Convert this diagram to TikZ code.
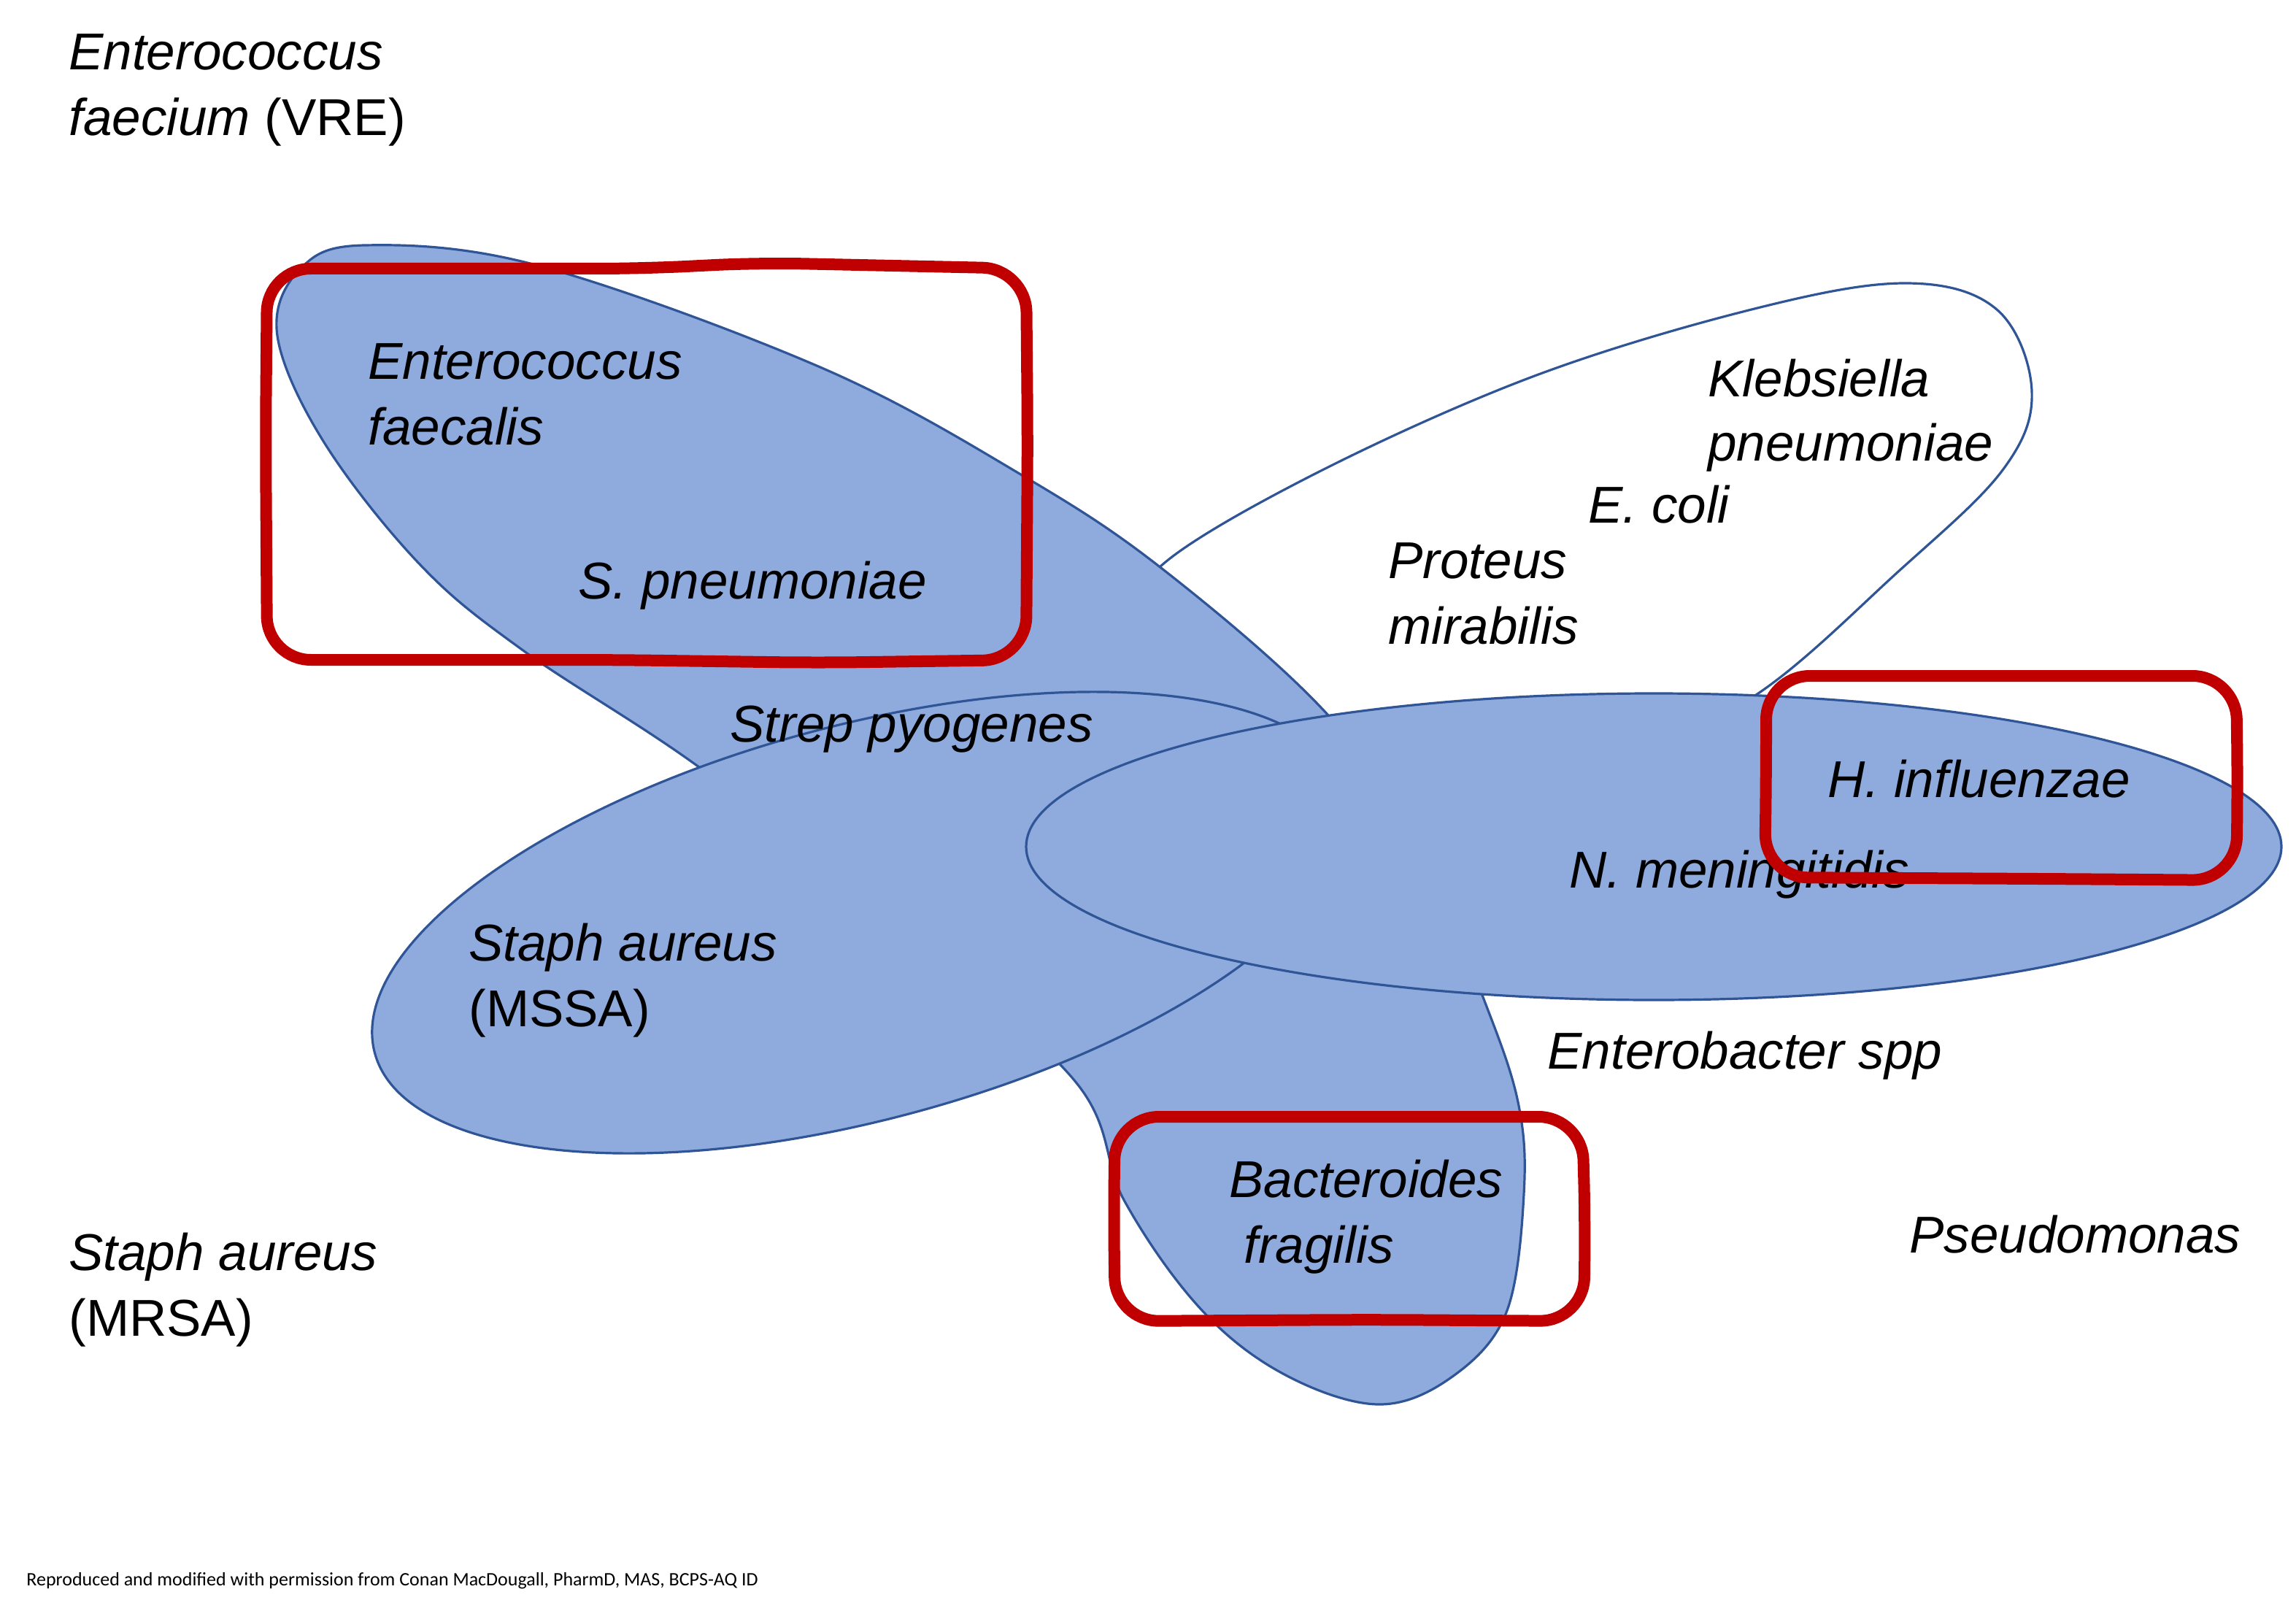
\documentclass[tikz,border=0pt]{standalone}
\usepackage{fontspec}
\setmainfont{Liberation Sans}
\newfontfamily\footfont{Carlito}
\definecolor{bfill}{HTML}{8FAADC}
\definecolor{bline}{HTML}{2F5597}
\definecolor{rline}{HTML}{C00000}
\begin{document}
\begin{tikzpicture}[x=1pt,y=-1pt,
  blob/.style={draw=bline,line width=1.6pt,fill=bfill},
  redbox/.style={draw=rline,line width=8pt,rounded corners=30pt},
  lbl/.style={anchor=base west,inner sep=0pt,font=\fontsize{35.5}{42}\selectfont\itshape,align=left},
  lbu/.style={anchor=base west,inner sep=0pt,font=\fontsize{35.5}{42}\selectfont,align=left}]
\useasboundingbox (0,0) rectangle (1573,1101.5);
% Klebsiella ellipse (white)
\draw[draw=bline,line width=1.6pt,fill=white] plot[smooth cycle,tension=0.6] coordinates {(795,388) (900,325) (1050,258) (1200,212) (1305,194) (1368,212) (1392,268) (1372,322) (1300,392) (1200,478) (1100,520) (950,520) (830,470) (790,425)};
% long tilted ellipse
\draw[blob] plot[smooth cycle,tension=0.6] coordinates {(250,168) (369,182) (563,252) (701,326) (798,391) (910,490) (975,585) (1016,683) (1040,755) (1044,818) (1032,899) (995,943) (944,962) (879,941) (822,896) (770,822) (736,740) (610,630) (481,527) (359,446) (288,387) (222,303) (190,230) (205,185)};
% MSSA ellipse
\draw[blob] (590,632) ellipse[x radius=345,y radius=135,rotate=15];
% N. meningitidis ellipse
\draw[blob] (1133,580) ellipse[x radius=430,y radius=105];
% texts
\node[lbl] (t1) at (47,48) {Enterococcus};
\node[lbu] (t2) at (47,93) {\itshape faecium \upshape(VRE)};
\node[lbl] (t3) at (252,260) {Enterococcus};
\node[lbl] (t4) at (252,305) {faecalis};
\node[lbl] (t5) at (396,410) {S. pneumoniae};
\node[lbl] (t6) at (1170,272) {Klebsiella};
\node[lbl] (t7) at (1170,316) {pneumoniae};
\node[lbl] (t8) at (1088,358) {E. coli};
\node[lbl] (t9) at (951,396) {Proteus};
\node[lbl] (t10) at (951,441) {mirabilis};
\node[lbl] (t11) at (500,508) {Strep pyogenes};
\node[lbl] (t12) at (1252,546) {H. influenzae};
\node[lbl] (t13) at (1075,608) {N. meningitidis};
\node[lbl] (t14) at (321,658) {Staph aureus};
\node[lbu] (t15) at (321,703) {(MSSA)};
\node[lbl] (t16) at (1060,732) {Enterobacter spp};
\node[lbl] (t17) at (842,820) {Bacteroides};
\node[lbl] (t18) at (852,865) {fragilis};
\node[lbl] (t19) at (1308,858) {Pseudomonas};
\node[lbl] (t20) at (47,870) {Staph aureus};
\node[lbu] (t21) at (47,915) {(MRSA)};
\node[anchor=base west,inner sep=0pt,font=\footfont\fontsize{13}{15}\selectfont] (ft) at (18,1086) {Reproduced and modified with permission from Conan MacDougall, PharmD, MAS, BCPS-AQ ID};
% red hand-drawn boxes
\draw[redbox] (440,184) -- (520,180) -- (703,184) -- (704,300) -- (703,452) -- (560,454) -- (420,452) -- (183,452) -- (182,300) -- (183,184) -- cycle;
\draw[redbox] (1370,463) -- (1532,463) -- (1533,540) -- (1532,603) -- (1400,602) -- (1209,601) -- (1210,530) -- (1210,463) -- cycle;
\draw[redbox] (920,765) -- (1084,765) -- (1086,840) -- (1085,905) -- (940,904) -- (764,905) -- (763,830) -- (764,765) -- cycle;
\end{tikzpicture}
\end{document}
